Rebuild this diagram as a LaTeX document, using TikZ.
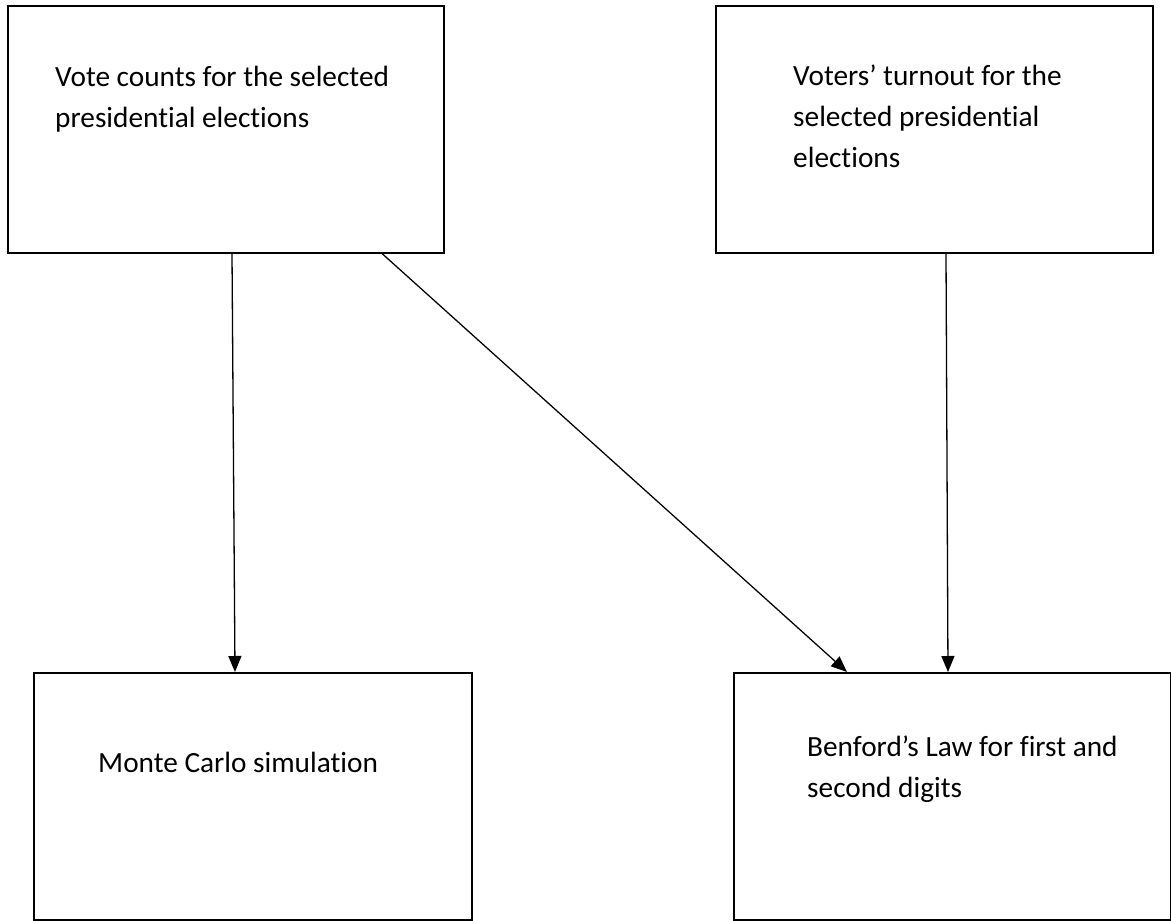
\documentclass[tikz,border=0pt]{standalone}
\usepackage{fontspec}
\setmainfont{Carlito}[Ligatures=NoCommon]
\usetikzlibrary{arrows.meta}
\begin{document}
\begin{tikzpicture}[x=1pt,y=-1pt,
  boxnode/.style={draw=black,line width=1.5pt,inner sep=0pt,anchor=north west},
  txt/.style={inner sep=0pt,anchor=base west,align=left,font=\fontsize{29.3}{41}\selectfont},
  arr/.style={draw=black,line width=1.3pt,-{Triangle[length=16pt,width=13pt]}}]
\useasboundingbox (0,0) rectangle (1171,921);
\node[boxnode,minimum width=436pt,minimum height=247pt] (A) at (7,5) {};
\node[boxnode,minimum width=437pt,minimum height=247pt] (B) at (715,5) {};
\node[boxnode,minimum width=438pt,minimum height=247pt] (C) at (33,672) {};
\node[boxnode,minimum width=437pt,minimum height=247pt] (D) at (733,672) {};
\node[txt] (ta) at (55,127) {Vote counts for the selected\\presidential elections};
\node[txt] (tb) at (793,167) {Voters’ turnout for the\\selected presidential\\elections};
\node[txt] (tc) at (98,772) {Monte Carlo simulation};
\node[txt] (td) at (807,797) {Benford’s Law for first and\\second digits};
\draw[arr] ([xshift=225pt]A.south west) -- ([xshift=202pt]C.north west);
\draw[arr] ([xshift=375pt]A.south west) -- ([xshift=114pt]D.north west);
\draw[arr] ([xshift=231pt]B.south west) -- ([xshift=215pt]D.north west);
\end{tikzpicture}
\end{document}
